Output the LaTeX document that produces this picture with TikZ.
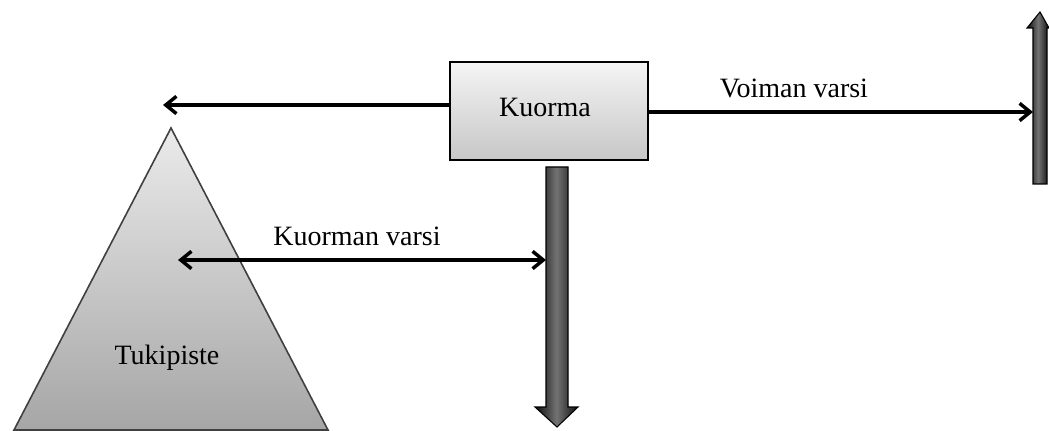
\documentclass[tikz,border=0pt]{standalone}
\usepackage{fontspec}
\setmainfont{Liberation Serif}
\usetikzlibrary{arrows.meta}
\tikzset{
    varsi/.style={line width=2.8pt,-{Straight Barb[length=8pt,width=13pt,line width=2.6pt]}},
    kaksvarsi/.style={line width=2.8pt,{Straight Barb[length=8pt,width=13pt,line width=2.6pt]}-{Straight Barb[length=8pt,width=13pt,line width=2.6pt]}},
    voima/.style={draw=black,line width=0.8pt,left color=black!95,right color=black!95,middle color=black!55},
    teksti/.style={font=\fontsize{21}{24}\selectfont}
}
\begin{document}
\begin{tikzpicture}[x=0.75pt,y=-0.75pt]
                    \useasboundingbox (0,0) rectangle (1049,431);

                    % tukipiste
                    \draw[draw=black!75,line width=1.2pt,top color=black!8,bottom color=black!35]
                        (171,128) -- (328,430) -- (14,430) -- cycle;
                    \node[teksti] (tuki) at (167,358) {Tukipiste};

                    % kuorma
                    \node[draw,line width=1.5pt,top color=black!4,bottom color=black!22,
                          minimum width=148.5pt,minimum height=73.5pt,inner sep=0pt] (kuorma) at (549,111) {};
                    \node[teksti] (kuormateksti) at (545,107) {Kuorma};

                    % voimat
                    \draw[voima] (546,167) -- (568,167) -- (568,407) -- (578,407) -- (557,427)
                        -- (535,407) -- (546,407) -- cycle;
                    \draw[voima] (1033,184) -- (1047,184) -- (1047,28) -- (1049,28) -- (1040,12)
                        -- (1027,28) -- (1033,28) -- cycle;

                    % varret
                    \coordinate (vasen) at (163,105);
                    \coordinate (oikea) at (1033,112);
                    \coordinate (tukipiste) at (178,260);
                    \coordinate (alavoima) at (546,260);
                    \draw[varsi] (kuorma.west |- vasen) -- (vasen);
                    \draw[varsi] (kuorma.east |- oikea) -- (oikea);
                    \draw[kaksvarsi] (tukipiste) -- (alavoima);

                    % labels
                    \node[teksti] (voimanvarsi) at (794,88) {Voiman varsi};
                    \node[teksti] (kuormanvarsi) at (357,236) {Kuorman varsi};

\end{tikzpicture}
\end{document}
